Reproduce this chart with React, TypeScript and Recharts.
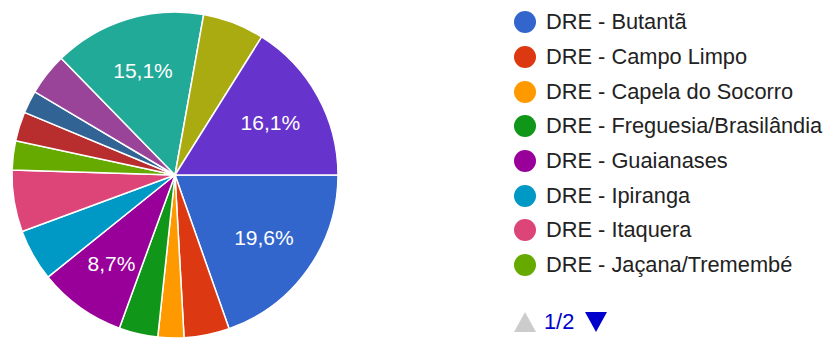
import { PieChart, Pie, Cell, Legend } from "recharts";

const categories = [
  "DRE - Butantã",
  "DRE - Campo Limpo",
  "DRE - Capela do Socorro",
  "DRE - Freguesia/Brasilândia",
  "DRE - Guaianases",
  "DRE - Ipiranga",
  "DRE - Itaquera",
  "DRE - Jaçana/Tremembé",
  "DRE - Penha",
  "DRE - Pirituba/Jaraguá",
  "DRE - Santo Amaro",
  "DRE - São Mateus",
  "DRE - São Miguel",
  "Outra",
];

const counts = [61, 14, 8, 12, 27, 16, 19, 9, 9, 7, 13, 47, 19, 50];

const colors = [
  "#3366cc",
  "#dc3912",
  "#ff9900",
  "#109618",
  "#990099",
  "#0099c6",
  "#dd4477",
  "#66aa00",
  "#b82e2e",
  "#316395",
  "#994499",
  "#22aa99",
  "#aaaa11",
  "#6633cc",
];

const data = categories.map((name, i) => ({ name, value: counts[i] }));

const FONT = "Arial, 'Liberation Sans', sans-serif";
const RADIAN = Math.PI / 180;
const PAGE_SIZE = 8;

const renderLabel = (props: any) => {
  const { cx, cy, midAngle, percent } = props;
  if (percent < 0.08) return null;
  const r = 109;
  const x = cx + r * Math.cos(-midAngle * RADIAN);
  const y = cy + r * Math.sin(-midAngle * RADIAN);
  return (
    <text
      x={x}
      y={y}
      fill="#fff"
      textAnchor="middle"
      dominantBaseline="central"
      fontFamily={FONT}
      fontSize={21}
    >
      {(percent * 100).toFixed(1).replace(".", ",")}%
    </text>
  );
};

const PagedLegend = () => (
  <div style={{ fontFamily: FONT, fontSize: 21.8, color: "#222" }}>
    {data.slice(0, PAGE_SIZE).map((d, i) => (
      <div
        key={d.name}
        style={{ display: "flex", alignItems: "center", height: 34.7 }}
      >
        <span
          style={{
            width: 22,
            height: 22,
            borderRadius: "50%",
            background: colors[i],
            marginRight: 10,
            flexShrink: 0,
          }}
        />
        <span style={{ whiteSpace: "nowrap" }}>{d.name}</span>
      </div>
    ))}
    <div
      style={{
        display: "flex",
        alignItems: "center",
        marginTop: 26,
        color: "#0000cc",
      }}
    >
      <svg width={22} height={20} style={{ marginRight: 8 }}>
        <polygon points="0,20 11,0 22,20" fill="#cccccc" />
      </svg>
      <span>1/2</span>
      <svg width={22} height={20} style={{ marginLeft: 11 }}>
        <polygon points="0,0 22,0 11,20" fill="#0000cc" />
      </svg>
    </div>
  </div>
);

export default function App() {
  return (
    <div style={{ position: "absolute", left: 0, top: 0 }}>
      <PieChart
        width={825}
        height={341}
        margin={{ top: 0, right: 0, bottom: 0, left: 0 }}
      >
        <Pie
          data={data}
          dataKey="value"
          nameKey="name"
          cx={175}
          cy={175}
          outerRadius={163}
          startAngle={0}
          endAngle={-360}
          stroke="#fff"
          strokeWidth={1.5}
          label={renderLabel}
          labelLine={false}
          isAnimationActive={false}
        >
          {data.map((d, i) => (
            <Cell key={d.name} fill={colors[i]} />
          ))}
        </Pie>
        <Legend
          layout="vertical"
          verticalAlign="top"
          align="right"
          content={<PagedLegend />}
          wrapperStyle={{ left: 514, top: 5, width: 311 }}
        />
      </PieChart>
    </div>
  );
}
